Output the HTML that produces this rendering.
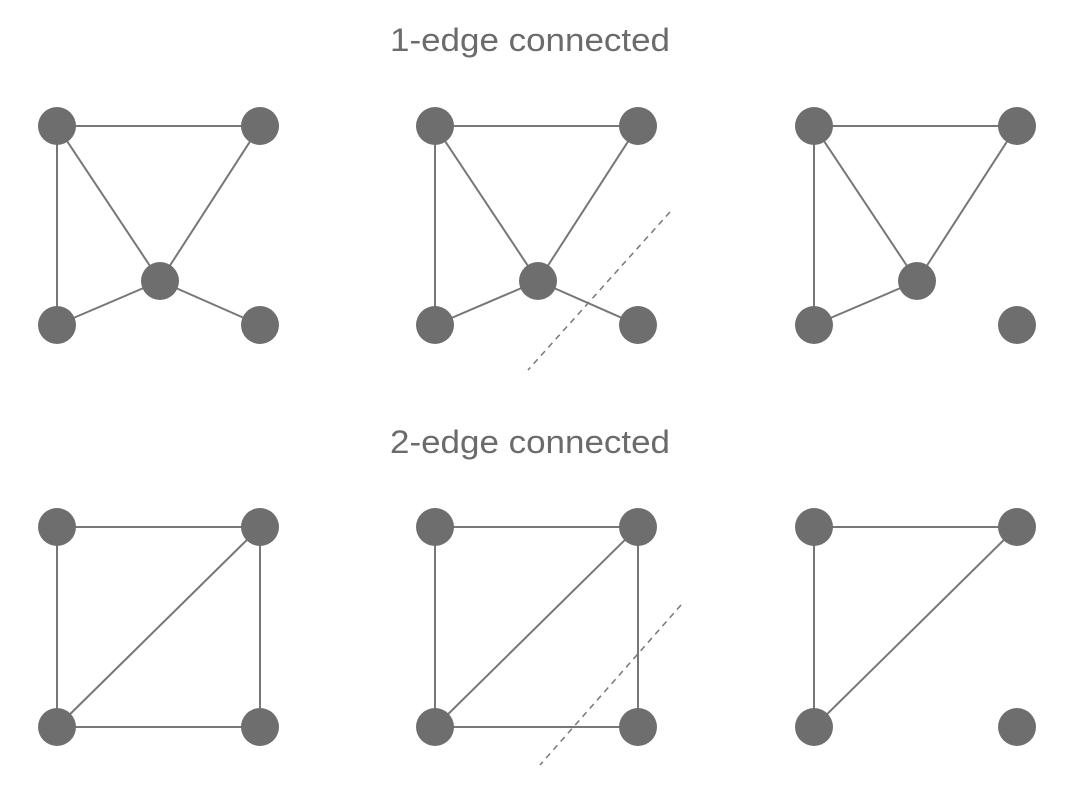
<!DOCTYPE html>
<html><head><style>html,body{margin:0;padding:0;background:#fff;}</style></head>
<body>
<svg width="1072" height="785" viewBox="0 0 1072 785" xmlns="http://www.w3.org/2000/svg">
<g font-family="Liberation Sans, sans-serif" font-size="32" fill="#6b6b6b">
<text x="390" y="51" textLength="280" lengthAdjust="spacingAndGlyphs">1-edge connected</text>
<text x="390" y="453" textLength="280" lengthAdjust="spacingAndGlyphs">2-edge connected</text>
</g>
<g stroke="#777" stroke-width="2" fill="none">
<!-- graph 1 -->
<line x1="57" y1="126" x2="260" y2="126"/><line x1="57" y1="126" x2="57" y2="325"/>
<line x1="57" y1="126" x2="160" y2="281"/><line x1="260" y1="126" x2="160" y2="281"/>
<line x1="57" y1="325" x2="160" y2="281"/><line x1="260" y1="325" x2="160" y2="281"/>
<!-- graph 2 -->
<line x1="435" y1="126" x2="638" y2="126"/><line x1="435" y1="126" x2="435" y2="325"/>
<line x1="435" y1="126" x2="538" y2="281"/><line x1="638" y1="126" x2="538" y2="281"/>
<line x1="435" y1="325" x2="538" y2="281"/><line x1="638" y1="325" x2="538" y2="281"/>
<!-- graph 3 -->
<line x1="814" y1="126" x2="1017" y2="126"/><line x1="814" y1="126" x2="814" y2="325"/>
<line x1="814" y1="126" x2="917" y2="281"/><line x1="1017" y1="126" x2="917" y2="281"/>
<line x1="814" y1="325" x2="917" y2="281"/>
<!-- graph 4 -->
<line x1="57" y1="527" x2="260" y2="527"/><line x1="57" y1="527" x2="57" y2="727"/>
<line x1="260" y1="527" x2="260" y2="727"/><line x1="57" y1="727" x2="260" y2="727"/>
<line x1="57" y1="727" x2="260" y2="527"/>
<!-- graph 5 -->
<line x1="435" y1="527" x2="638" y2="527"/><line x1="435" y1="527" x2="435" y2="727"/>
<line x1="638" y1="527" x2="638" y2="727"/><line x1="435" y1="727" x2="638" y2="727"/>
<line x1="435" y1="727" x2="638" y2="527"/>
<!-- graph 6 -->
<line x1="814" y1="527" x2="1017" y2="527"/><line x1="814" y1="527" x2="814" y2="727"/>
<line x1="814" y1="727" x2="1017" y2="527"/>
</g>
<g stroke="#777" stroke-width="1.5" stroke-dasharray="6,5" fill="none">
<line x1="670" y1="212" x2="528" y2="370"/>
<line x1="681" y1="605" x2="540" y2="765"/>
</g>
<g fill="#6e6e6e">
<circle cx="57" cy="126" r="19"/><circle cx="260" cy="126" r="19"/><circle cx="160" cy="281" r="19"/><circle cx="57" cy="325" r="19"/><circle cx="260" cy="325" r="19"/>
<circle cx="435" cy="126" r="19"/><circle cx="638" cy="126" r="19"/><circle cx="538" cy="281" r="19"/><circle cx="435" cy="325" r="19"/><circle cx="638" cy="325" r="19"/>
<circle cx="814" cy="126" r="19"/><circle cx="1017" cy="126" r="19"/><circle cx="917" cy="281" r="19"/><circle cx="814" cy="325" r="19"/><circle cx="1017" cy="325" r="19"/>
<circle cx="57" cy="527" r="19"/><circle cx="260" cy="527" r="19"/><circle cx="57" cy="727" r="19"/><circle cx="260" cy="727" r="19"/>
<circle cx="435" cy="527" r="19"/><circle cx="638" cy="527" r="19"/><circle cx="435" cy="727" r="19"/><circle cx="638" cy="727" r="19"/>
<circle cx="814" cy="527" r="19"/><circle cx="1017" cy="527" r="19"/><circle cx="814" cy="727" r="19"/><circle cx="1017" cy="727" r="19"/>
</g>
</svg>
</body></html>
